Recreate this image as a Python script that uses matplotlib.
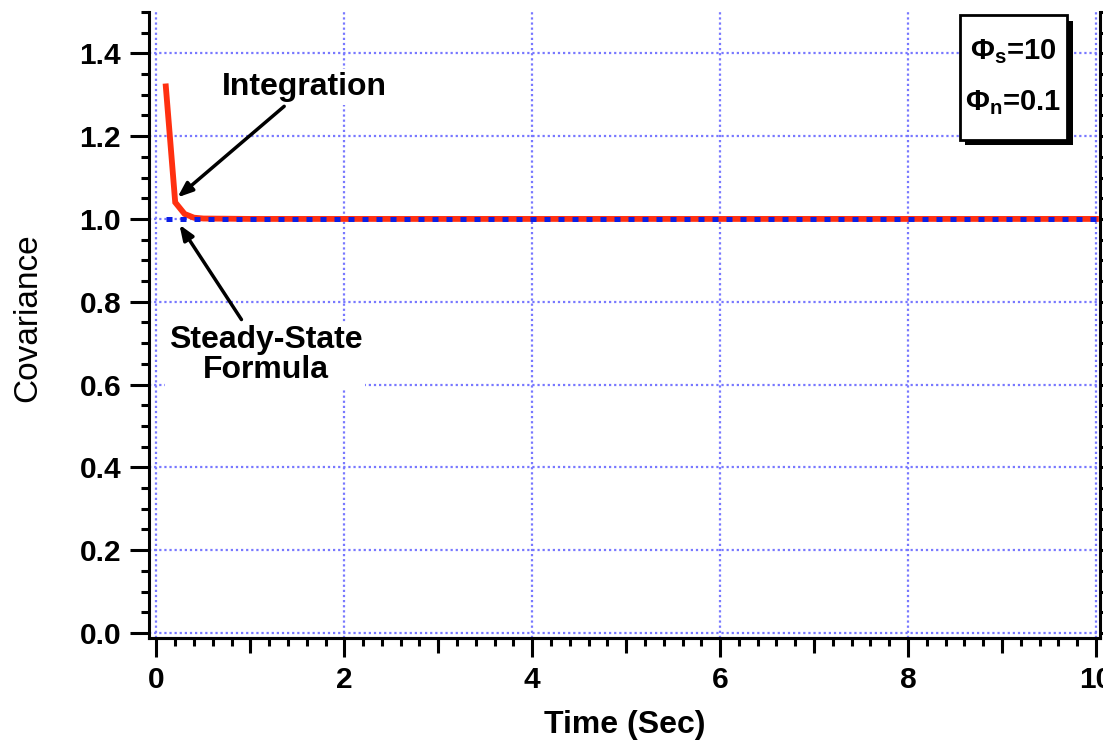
import numpy as np
import matplotlib.pyplot as plt
from matplotlib.ticker import MultipleLocator
from matplotlib.patches import Rectangle
from matplotlib import patheffects

plt.rcParams['font.family'] = ['Liberation Sans', 'DejaVu Sans']
plt.rcParams['mathtext.fontset'] = 'custom'
plt.rcParams['mathtext.rm'] = 'Liberation Sans:bold'
plt.rcParams['mathtext.it'] = 'Liberation Sans:bold'
plt.rcParams['mathtext.bf'] = 'Liberation Sans:bold'

# data
t_int = [0.1, 0.2, 0.3, 0.4, 0.5, 1.0, 2.0, 4.0, 6.0, 8.0, 10.0]
cov_int = [1.32, 1.04, 1.012, 1.003, 1.001, 1.0, 1.0, 1.0, 1.0, 1.0, 1.0]
t_ss = [0.1, 10.0]
cov_ss = [1.0, 1.0]
phi_s = 10
phi_n = 0.1

fig = plt.figure(figsize=(11.03, 7.44), dpi=100)
ax = fig.add_axes([0.135, 0.1425, 0.862, 0.8415])

ax.plot(t_int, cov_int, color='#ff3010', lw=4.2, solid_joinstyle='miter', zorder=3)
ax.plot(t_ss, cov_ss, color='#0a1ee6', lw=3.6, dashes=(1.2, 1.6),
        dash_capstyle='butt', zorder=4)

ax.set_xlim(-0.08, 10.04)
ax.set_ylim(-0.012, 1.5)

grid_kw = dict(color='#7878ff', lw=1.6, linestyle=(0, (1, 1.3)))
ax.grid(True, which='major', **grid_kw)
ax.set_axisbelow(True)

ax.xaxis.set_major_locator(MultipleLocator(2))
ax.xaxis.set_minor_locator(MultipleLocator(0.2))
ax.yaxis.set_major_locator(MultipleLocator(0.2))
ax.yaxis.set_minor_locator(MultipleLocator(0.05))
ax.yaxis.set_major_formatter(plt.FormatStrFormatter('%.1f'))

ax.spines['top'].set_visible(False)
for s in ['left', 'bottom', 'right']:
    ax.spines[s].set_linewidth(2.2)

ax.tick_params(which='major', direction='out', length=14, width=2.2,
               labelsize=21.5, pad=6, right=True)
ax.tick_params(which='minor', direction='out', length=6, width=2.2, right=True)
for lab in ax.get_xticklabels() + ax.get_yticklabels():
    lab.set_fontweight('bold')

# medium ticks at odd seconds
sec = ax.secondary_xaxis('bottom')
sec.set_xticks([1, 3, 5, 7, 9])
sec.tick_params(direction='out', length=11, width=2.2, labelbottom=False)
sec.spines['bottom'].set_linewidth(2.2)

ax.set_xlabel('Time (Sec)', fontsize=23, fontweight='bold', labelpad=12)
fig.text(28 / 1103, 1 - 318 / 744, 'Covariance', fontsize=24, rotation=90,
         ha='center', va='center')

box = dict(boxstyle='square,pad=0.1', fc='white', ec='none')
ax.text(1.576, 1.318, 'Integration', fontsize=23, fontweight='bold',
        ha='center', va='center', bbox=box, zorder=5)
ax.text(1.16, 0.672, 'Steady-State\nFormula', fontsize=23, fontweight='bold',
        ha='center', va='center', linespacing=1.0, bbox=box, zorder=5)

arrow = dict(arrowstyle='-|>,head_length=0.9,head_width=0.35', color='black',
             lw=2.5, shrinkA=0, shrinkB=0)
ax.annotate('', xy=(0.224, 1.052), xytext=(1.36, 1.272), arrowprops=arrow, zorder=6)
ax.annotate('', xy=(0.245, 0.986), xytext=(0.905, 0.757), arrowprops=arrow, zorder=6)

# parameter box with shadow
frame = Rectangle((0.853, 0.796), 0.113, 0.199, transform=ax.transAxes,
                  fc='white', ec='black', lw=2, zorder=7, clip_on=False)
frame.set_path_effects([
    patheffects.SimplePatchShadow(offset=(4, -4), shadow_rgbFace='black', alpha=1),
    patheffects.Normal()])
ax.add_patch(frame)
label = '$\\Phi_s$=%g\n$\\Phi_n$=%g' % (phi_s, phi_n)
ax.text(0.909, 0.896, label, transform=ax.transAxes, fontsize=21,
        fontweight='bold', ha='center', va='center', linespacing=2.0, zorder=8)

fig.savefig('out.png', dpi=100)
